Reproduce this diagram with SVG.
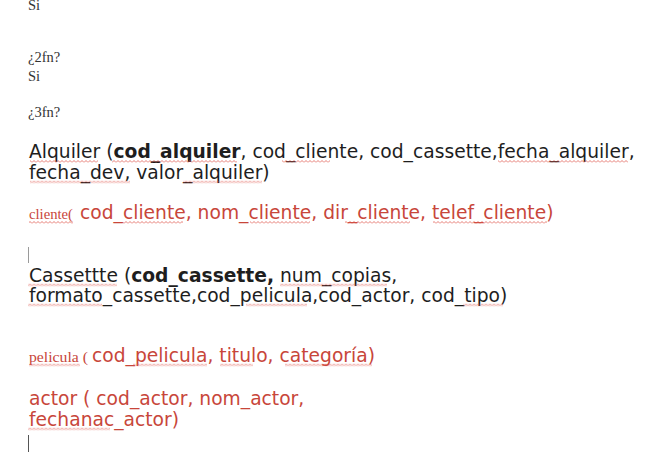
<svg xmlns="http://www.w3.org/2000/svg" width="668" height="463" viewBox="0 0 668 463">
<defs>
<pattern id="wave" patternUnits="userSpaceOnUse" width="4" height="3">
<path d="M0,2.5 L2,0.5 L4,2.5" fill="none" stroke="#e05a50" stroke-width="0.8"/>
</pattern>
<style>
.serif{font-family:"Liberation Serif","Times New Roman",serif;font-size:14.5px;fill:#333333}
.sm{font-family:"Liberation Serif","Times New Roman",serif;font-size:15px;fill:#c8463a}
.b{font-family:"DejaVu Sans",sans-serif;font-size:18.7px;fill:#1e1e1e}
.r{font-family:"DejaVu Sans",sans-serif;font-size:18.7px;fill:#c8463a}
.bold{font-weight:bold}
.w{fill:url(#wave)}
</style>
</defs>
<rect width="668" height="463" fill="#ffffff"/>
<g id="header">
<text class="serif" x="28" y="10">Si</text>
<text class="serif" x="28" y="62">¿2fn?</text>
<text class="serif" x="28" y="81">Si</text>
<text class="serif" x="28" y="117">¿3fn?</text>
</g>
<g id="alquiler">
<text class="b" x="29" y="158">Alquiler (<tspan class="bold">cod_alquiler</tspan>, cod_cliente, cod_cassette,fecha_alquiler,</text>
<text class="b" x="29" y="178.5">fecha_dev, valor_alquiler)</text>
</g>
<g id="cliente">
<text class="sm" x="29" y="219" textLength="44" lengthAdjust="spacingAndGlyphs">cliente(</text>
<text class="r" x="80" y="219">cod_cliente, nom_cliente, dir_cliente, telef_cliente)</text>
</g>
<g id="cassette">
<text class="b" x="29" y="281.5">Cassettte (<tspan class="bold">cod_cassette,</tspan> num_copias,</text>
<text class="b" x="29" y="301.5">formato_cassette,cod_pelicula,cod_actor, cod_tipo)</text>
</g>
<g id="pelicula">
<text class="sm" x="29" y="361.5" textLength="59" lengthAdjust="spacingAndGlyphs">pelicula (</text>
<text class="r" x="92" y="361.5">cod_pelicula, titulo, categoría)</text>
</g>
<g id="actor">
<text class="r" x="29" y="405">actor ( cod_actor, nom_actor,</text>
<text class="r" x="29" y="425.5">fechanac_actor)</text>
</g>
<g id="cursors" stroke-width="1">
<line x1="28.5" y1="247" x2="28.5" y2="263" stroke="#9a9a9a"/>
<line x1="28.5" y1="435" x2="28.5" y2="452" stroke="#555555"/>
</g>
<g id="spellcheck">
<rect class="w" x="30" y="0" width="68" height="3" transform="translate(0,160)"/>
<rect class="w" x="112" y="0" width="125" height="3" transform="translate(0,160)"/>
<rect class="w" x="282" y="0" width="48" height="3" transform="translate(0,160)"/>
<rect class="w" x="498" y="0" width="130" height="3" transform="translate(0,160)"/>
<rect class="w" x="30" y="0" width="100" height="3" transform="translate(0,180.5)"/>
<rect class="w" x="183" y="0" width="79" height="3" transform="translate(0,180.5)"/>
<rect class="w" x="29" y="0" width="44" height="3" transform="translate(0,221)"/>
<rect class="w" x="123" y="0" width="60" height="3" transform="translate(0,221)"/>
<rect class="w" x="250" y="0" width="60" height="3" transform="translate(0,221)"/>
<rect class="w" x="345" y="0" width="65" height="3" transform="translate(0,221)"/>
<rect class="w" x="433" y="0" width="114" height="3" transform="translate(0,221)"/>
<rect class="w" x="28" y="0" width="89" height="3" transform="translate(0,283.5)"/>
<rect class="w" x="280" y="0" width="107" height="3" transform="translate(0,283.5)"/>
<rect class="w" x="28" y="0" width="74" height="3" transform="translate(0,303.5)"/>
<rect class="w" x="246" y="0" width="61" height="3" transform="translate(0,303.5)"/>
<rect class="w" x="463" y="0" width="40" height="3" transform="translate(0,303.5)"/>
<rect class="w" x="29" y="0" width="51" height="3" transform="translate(0,363.5)"/>
<rect class="w" x="133" y="0" width="74" height="3" transform="translate(0,363.5)"/>
<rect class="w" x="220" y="0" width="33" height="3" transform="translate(0,363.5)"/>
<rect class="w" x="285" y="0" width="87" height="3" transform="translate(0,363.5)"/>
<rect class="w" x="28" y="0" width="82" height="3" transform="translate(0,427.5)"/>
</g>
</svg>
